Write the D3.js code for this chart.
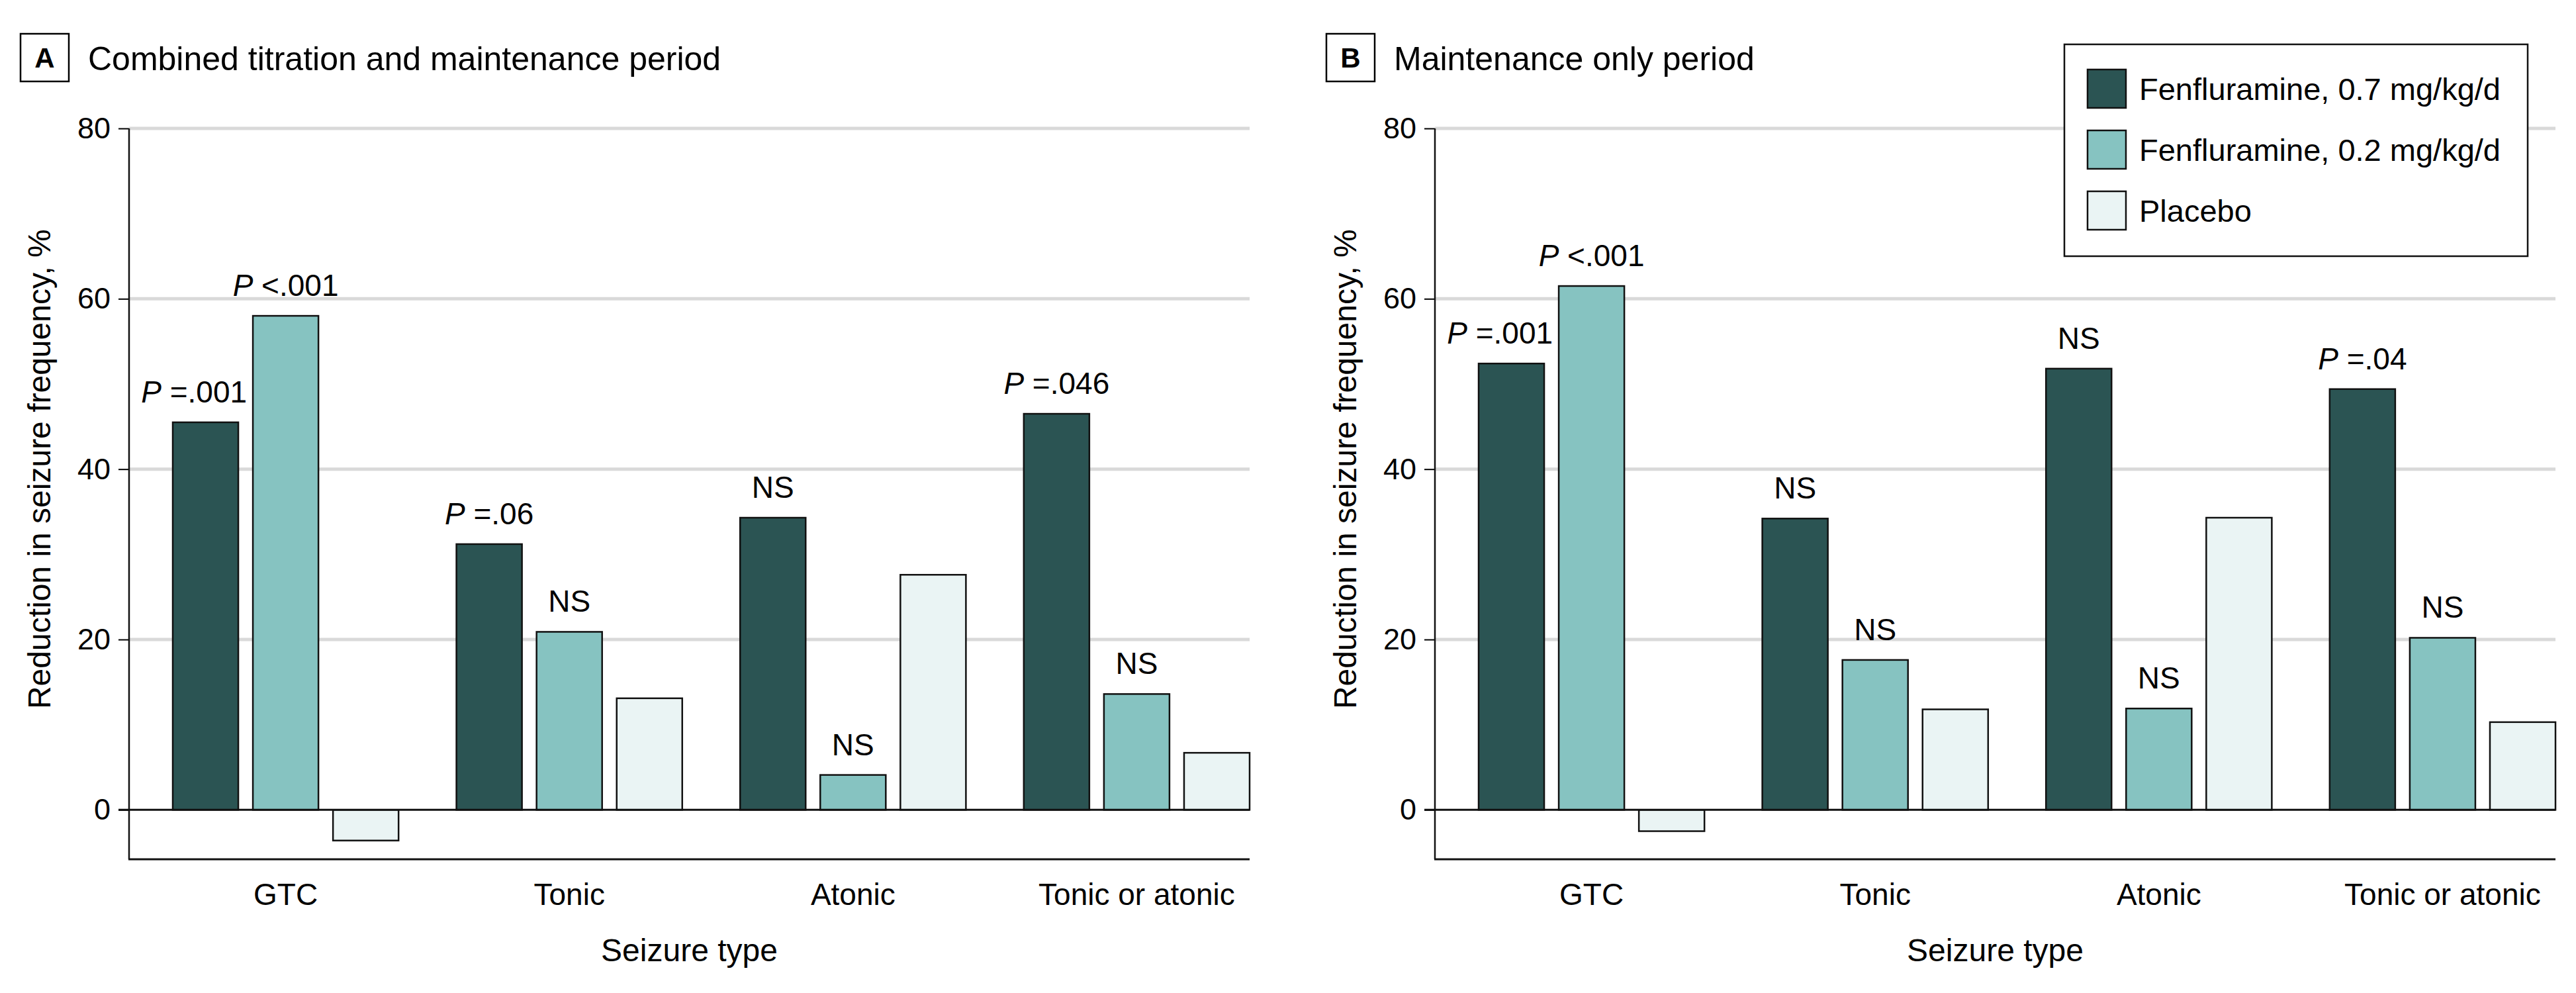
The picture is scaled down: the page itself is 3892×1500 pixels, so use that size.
<!DOCTYPE html>
<html>
<head>
<meta charset="utf-8">
<script src="https://cdn.jsdelivr.net/npm/d3@7"></script>
<style>
  html, body { margin: 0; padding: 0; background: #fff; }
  svg { display: block; }
  text { font-family: "Liberation Sans", Arial, sans-serif; fill: #000; }
</style>
</head>
<body>
<svg id="chart" width="3892" height="1500"></svg>
<script>
// ---------- data ----------
const categories = ["GTC", "Tonic", "Atonic", "Tonic or atonic"];
const seriesNames = ["Fenfluramine, 0.7 mg/kg/d", "Fenfluramine, 0.2 mg/kg/d", "Placebo"];
const seriesColors = ["#2b5453", "#86c3c1", "#eaf4f4"];
const yTicks = [0, 20, 40, 60, 80];

const panelLetters = ["A", "B"];
const panelTitles = ["Combined titration and maintenance period", "Maintenance only period"];

// Panel A: combined titration and maintenance period
const aHigh = [45.5, 31.2, 34.3, 46.5];
const aLow = [58.0, 20.9, 4.1, 13.6];
const aPlacebo = [-3.6, 13.1, 27.6, 6.7];
const aHighLabels = ["P =.001", "P =.06", "NS", "P =.046"];
const aLowLabels = ["P <.001", "NS", "NS", "NS"];

// Panel B: maintenance only period
const bHigh = [52.4, 34.2, 51.8, 49.4];
const bLow = [61.5, 17.6, 11.9, 20.2];
const bPlacebo = [-2.5, 11.8, 34.3, 10.3];
const bHighLabels = ["P =.001", "NS", "NS", "P =.04"];
const bLowLabels = ["P <.001", "NS", "NS", "NS"];

const yLabel = "Reduction in seizure frequency, %";
const xLabel = "Seizure type";

// ---------- layout ----------
const svg = d3.select("#chart");
const panelOffsets = [0, 1973];
const plotLeft = 195, plotRight = 1888, plotTop = 194, plotBottom = 1298;

const y = d3.scaleLinear().domain([-5.8, 80]).range([plotBottom, plotTop]);

const x0 = d3.scaleBand().domain(categories)
  .range([plotLeft, plotRight]).paddingInner(0.204).paddingOuter(0.077).align(1);
const x1 = d3.scaleBand().domain(seriesNames)
  .range([0, x0.bandwidth()]).paddingInner(0.182).paddingOuter(0);

const panels = [
  { values: [aHigh, aLow, aPlacebo], labels: [aHighLabels, aLowLabels, null] },
  { values: [bHigh, bLow, bPlacebo], labels: [bHighLabels, bLowLabels, null] }
];

function addPLabel(sel, str) {
  if (str.startsWith("P ")) {
    sel.append("tspan").attr("font-style", "italic").text("P");
    sel.append("tspan").text(str.slice(1));
  } else {
    sel.text(str);
  }
}

panels.forEach((p, pi) => {
  const g = svg.append("g").attr("transform", `translate(${panelOffsets[pi]},0)`);

  // panel letter box + title
  g.append("rect").attr("x", 31).attr("y", 51).attr("width", 73).attr("height", 72)
    .attr("fill", "#fff").attr("stroke", "#000").attr("stroke-width", 2.5);
  g.append("text").attr("x", 67.5).attr("y", 102).attr("text-anchor", "middle")
    .attr("font-size", 42).attr("font-weight", "bold").text(panelLetters[pi]);
  g.append("text").attr("x", 133).attr("y", 106).attr("font-size", 50).text(panelTitles[pi]);

  // gridlines
  g.append("g").selectAll("line").data(yTicks.filter(t => t !== 0)).join("line")
    .attr("x1", plotLeft).attr("x2", plotRight)
    .attr("y1", d => y(d)).attr("y2", d => y(d))
    .attr("stroke", "#d9d9d9").attr("stroke-width", 5);

  // y axis ticks & labels
  const yAxis = d3.axisLeft(y).tickValues(yTicks).tickSize(16).tickPadding(12).tickFormat(d3.format("d"));
  const ya = g.append("g").attr("transform", `translate(${plotLeft},0)`).call(yAxis);
  ya.select(".domain").remove();
  ya.selectAll(".tick line").attr("stroke", "#000").attr("stroke-width", 2);
  ya.selectAll(".tick text").attr("font-size", 45).attr("font-family", "Liberation Sans, Arial, sans-serif").attr("fill", "#000");

  // bars
  const data = [];
  categories.forEach((c, ci) => {
    seriesNames.forEach((s, si) => {
      data.push({ cat: c, ser: s, si, ci, v: p.values[si][ci],
                  label: p.labels[si] ? p.labels[si][ci] : null });
    });
  });

  g.append("g").selectAll("rect").data(data).join("rect")
    .attr("x", d => x0(d.cat) + x1(d.ser))
    .attr("width", x1.bandwidth())
    .attr("y", d => y(Math.max(0, d.v)))
    .attr("height", d => Math.abs(y(d.v) - y(0)))
    .attr("fill", d => seriesColors[d.si])
    .attr("stroke", "#111").attr("stroke-width", 2.5);

  // zero line
  g.append("line").attr("x1", plotLeft - 16).attr("x2", plotRight)
    .attr("y1", y(0)).attr("y2", y(0)).attr("stroke", "#111").attr("stroke-width", 3);

  // y axis line and bottom axis line
  g.append("line").attr("x1", plotLeft).attr("x2", plotLeft)
    .attr("y1", y(80)).attr("y2", plotBottom).attr("stroke", "#111").attr("stroke-width", 2.5);
  g.append("line").attr("x1", plotLeft - 1).attr("x2", plotRight)
    .attr("y1", plotBottom).attr("y2", plotBottom).attr("stroke", "#111").attr("stroke-width", 3);

  // significance labels
  const labelled = data.filter(d => d.label);
  labelled.forEach(d => {
    const cx = x0(d.cat) + x1(d.ser) + x1.bandwidth() / 2;
    const t = g.append("text").attr("x", cx).attr("y", y(d.v) - 30)
      .attr("text-anchor", "middle").attr("font-size", 46);
    addPLabel(t, d.label);
    // nudge left if it collides with the taller neighbouring bar
    const next = data.find(e => e.ci === d.ci && e.si === d.si + 1);
    if (next) {
      const bb = t.node().getBBox();
      const nextLeft = x0(next.cat) + x1(next.ser);
      if (y(next.v) < y(d.v) - 30 && bb.x + bb.width > nextLeft - 9) {
        t.attr("x", cx - (bb.x + bb.width - (nextLeft - 9)));
      }
    }
  });

  // x category labels
  g.append("g").selectAll("text").data(categories).join("text")
    .attr("x", d => x0(d) + x0.bandwidth() / 2).attr("y", 1367)
    .attr("text-anchor", "middle").attr("font-size", 46).text(d => d);

  // axis titles
  g.append("text").attr("x", (plotLeft + plotRight) / 2).attr("y", 1452)
    .attr("text-anchor", "middle").attr("font-size", 48).text(xLabel);
  g.append("text").attr("transform", `translate(76,${(y(0) + y(80)) / 2}) rotate(-90)`)
    .attr("text-anchor", "middle").attr("font-size", 48).text(yLabel);
});

// ---------- legend ----------
const lg = svg.append("g").attr("transform", "translate(3119,67)");
lg.append("rect").attr("width", 700).attr("height", 320)
  .attr("fill", "#fff").attr("stroke", "#111").attr("stroke-width", 2.5);
seriesNames.forEach((s, i) => {
  const row = lg.append("g").attr("transform", `translate(35,${38 + i * 92})`);
  row.append("rect").attr("width", 58).attr("height", 58)
    .attr("fill", seriesColors[i]).attr("stroke", "#111").attr("stroke-width", 2.5);
  row.append("text").attr("x", 78).attr("y", 46).attr("font-size", 47).text(s);
});
</script>
</body>
</html>
